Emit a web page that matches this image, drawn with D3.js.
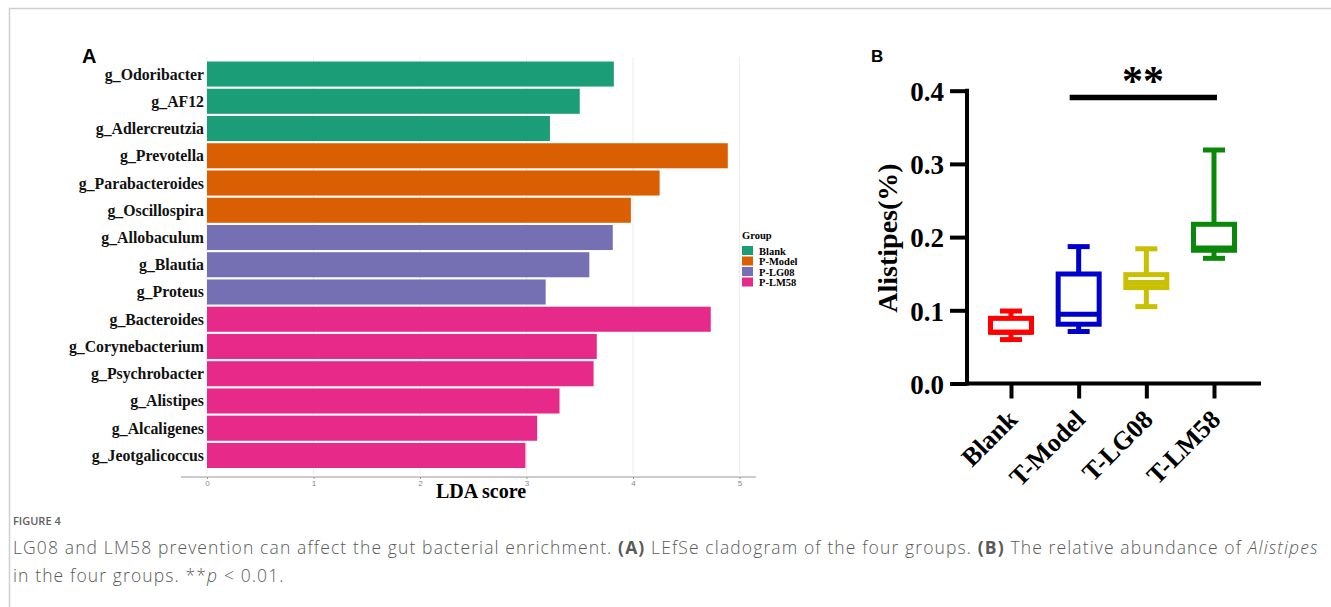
<!DOCTYPE html>
<html><head><meta charset="utf-8">
<script src="https://cdn.jsdelivr.net/npm/d3@7"></script>
<style>body{margin:0;background:#fff}svg{display:block}</style>
</head><body>
<svg id="c" width="1331" height="607"></svg>
<script>
// ---- Panel A data ----
const taxa = ["g_Odoribacter","g_AF12","g_Adlercreutzia","g_Prevotella","g_Parabacteroides","g_Oscillospira","g_Allobaculum","g_Blautia","g_Proteus","g_Bacteroides","g_Corynebacterium","g_Psychrobacter","g_Alistipes","g_Alcaligenes","g_Jeotgalicoccus"];
const ldaScores = [3.82,3.50,3.22,4.89,4.25,3.98,3.81,3.59,3.18,4.73,3.66,3.63,3.31,3.10,2.99];
const taxaGroup = ["Blank","Blank","Blank","P-Model","P-Model","P-Model","P-LG08","P-LG08","P-LG08","P-LM58","P-LM58","P-LM58","P-LM58","P-LM58","P-LM58"];
const legendGroups = ["Blank","P-Model","P-LG08","P-LM58"];
const groupColors = ["#1b9e77","#d95f02","#7570b3","#e7298a"];
const ldaTicks = [0,1,2,3,4,5];
// ---- Panel B data ----
const boxGroups = ["Blank","T-Model","T-LG08","T-LM58"];
const boxMin = [0.060,0.071,0.105,0.171];
const boxQ1 = [0.070,0.081,0.131,0.182];
const boxMedian = [0.070,0.0945,0.138,0.185];
const boxQ3 = [0.089,0.1496,0.1487,0.2175];
const boxMax = [0.099,0.187,0.184,0.319];
const boxColors = ["#ff0000","#0000cc","#c8c000","#0a880a"];
const yTicksB = [0.0,0.1,0.2,0.3,0.4];

const svg = d3.select("#c");
// frame
svg.append("path").attr("d","M9.5,607 V8.5 H1331").attr("fill","none").attr("stroke","#cfcfcf").attr("stroke-width",1.5);

// ===== Panel A =====
const serif = "'Liberation Serif','Times New Roman',serif";
const xA = d3.scaleLinear().domain([0,5]).range([207,739.5]);
const yA = d3.scaleBand().domain(taxa).range([61.5,468]).paddingInner(0.08).paddingOuter(0);
const colA = d3.scaleOrdinal().domain(legendGroups).range(groupColors);

svg.append("text").attr("x",82).attr("y",63).attr("font-family","'Liberation Sans',Arial,sans-serif")
  .attr("font-weight","bold").attr("font-size",20).text("A");

// grid
svg.append("g").selectAll("line").data(ldaTicks).join("line")
  .attr("x1",d=>xA(d)).attr("x2",d=>xA(d)).attr("y1",57).attr("y2",474)
  .attr("stroke","#ececec").attr("stroke-width",1);

svg.append("g").selectAll("rect").data(taxa).join("rect")
  .attr("x",xA(0)).attr("y",d=>yA(d))
  .attr("width",(d,i)=>xA(ldaScores[i])-xA(0)).attr("height",yA.bandwidth())
  .attr("fill",(d,i)=>colA(taxaGroup[i]));

svg.append("g").selectAll("text").data(taxa).join("text")
  .attr("x",204).attr("y",d=>yA(d)+yA.bandwidth()/2+5.5)
  .attr("text-anchor","end").attr("font-family",serif).attr("font-weight","bold").attr("font-size",15.8)
  .attr("fill","#111").text(d=>d);

const axA = svg.append("g").attr("transform","translate(0,477)")
  .call(d3.axisBottom(xA).tickValues(ldaTicks).tickSize(2).tickFormat(d3.format("d")));
axA.select(".domain").remove();
axA.selectAll(".tick line").attr("stroke","#999");
axA.selectAll(".tick text").attr("fill","#888").attr("font-size",8).attr("font-family","'Liberation Sans',Arial,sans-serif").attr("dy","0.5em");
svg.append("line").attr("x1",181).attr("x2",756).attr("y1",477).attr("y2",477).attr("stroke","#999").attr("stroke-width",1.2);

svg.append("text").attr("x",481).attr("y",498).attr("text-anchor","middle")
  .attr("font-family",serif).attr("font-weight","bold").attr("font-size",20).text("LDA score");

// legend
const lg = svg.append("g");
lg.append("text").attr("x",742).attr("y",239).attr("font-family",serif).attr("font-weight","bold").attr("font-size",10.5).text("Group");
const li = lg.selectAll("g").data(legendGroups).join("g").attr("transform",(d,i)=>`translate(742,${246+i*10.5})`);
li.append("rect").attr("width",11).attr("height",9).attr("fill",d=>colA(d));
li.append("text").attr("x",17).attr("y",8.5).attr("font-family",serif).attr("font-weight","bold").attr("font-size",10.5).text(d=>d);

// ===== Panel B =====
svg.append("text").attr("x",871).attr("y",62).attr("font-family","'Liberation Sans',Arial,sans-serif")
  .attr("font-weight","bold").attr("font-size",17).text("B");

const yB = d3.scaleLinear().domain([0,0.4]).range([383.5,90.7]);
const xB = d3.scalePoint().domain(boxGroups).range([1011,1214]);

const ax = svg.append("g").attr("transform","translate(967,0)")
  .call(d3.axisLeft(yB).tickValues(yTicksB).tickSize(17).tickFormat(d3.format(".1f")));
ax.select(".domain").remove();
ax.selectAll(".tick line").attr("stroke","#000").attr("stroke-width",4);
ax.selectAll(".tick text").attr("font-family",serif).attr("font-weight","bold").attr("font-size",27).attr("fill","#000").attr("dx","-3").attr("dy","0.36em");
svg.append("line").attr("x1",967).attr("x2",967).attr("y1",88.7).attr("y2",385.5).attr("stroke","#000").attr("stroke-width",4);

const axx = svg.append("g").attr("transform","translate(0,383.5)")
  .call(d3.axisBottom(xB).tickSize(15).tickFormat(""));
axx.select(".domain").remove();
axx.selectAll(".tick line").attr("stroke","#000").attr("stroke-width",4);
svg.append("line").attr("x1",965).attr("x2",1261).attr("y1",383.5).attr("y2",383.5).attr("stroke","#000").attr("stroke-width",4);

svg.append("g").selectAll("text").data(boxGroups).join("text")
  .attr("transform",d=>`translate(${xB(d)+8},${421}) rotate(-45)`)
  .attr("text-anchor","end").attr("font-family",serif).attr("font-weight","bold").attr("font-size",26).text(d=>d);

svg.append("text").attr("transform","translate(897,238) rotate(-90)").attr("text-anchor","middle")
  .attr("font-family",serif).attr("font-weight","bold").attr("font-size",28).text("Alistipes(%)");

// boxes
const bw = 41, cw = 22, sw = 5;
const bx = svg.append("g").selectAll("g").data(boxGroups).join("g");
bx.append("line").attr("x1",d=>xB(d)).attr("x2",d=>xB(d)).attr("y1",(d,i)=>yB(boxMax[i])).attr("y2",(d,i)=>yB(boxQ3[i]))
  .attr("stroke",(d,i)=>boxColors[i]).attr("stroke-width",sw);
bx.append("line").attr("x1",d=>xB(d)).attr("x2",d=>xB(d)).attr("y1",(d,i)=>yB(boxMin[i])).attr("y2",(d,i)=>yB(boxQ1[i]))
  .attr("stroke",(d,i)=>boxColors[i]).attr("stroke-width",sw);
bx.append("line").attr("x1",d=>xB(d)-cw/2).attr("x2",d=>xB(d)+cw/2).attr("y1",(d,i)=>yB(boxMax[i])).attr("y2",(d,i)=>yB(boxMax[i]))
  .attr("stroke",(d,i)=>boxColors[i]).attr("stroke-width",sw);
bx.append("line").attr("x1",d=>xB(d)-cw/2).attr("x2",d=>xB(d)+cw/2).attr("y1",(d,i)=>yB(boxMin[i])).attr("y2",(d,i)=>yB(boxMin[i]))
  .attr("stroke",(d,i)=>boxColors[i]).attr("stroke-width",sw);
bx.append("rect").attr("x",d=>xB(d)-bw/2).attr("width",bw)
  .attr("y",(d,i)=>yB(boxQ3[i])).attr("height",(d,i)=>yB(boxQ1[i])-yB(boxQ3[i]))
  .attr("fill","#fff").attr("stroke",(d,i)=>boxColors[i]).attr("stroke-width",sw);
bx.append("line").attr("x1",d=>xB(d)-bw/2).attr("x2",d=>xB(d)+bw/2).attr("y1",(d,i)=>yB(boxMedian[i])).attr("y2",(d,i)=>yB(boxMedian[i]))
  .attr("stroke",(d,i)=>boxColors[i]).attr("stroke-width",sw);

// significance
svg.append("line").attr("x1",xB("T-Model")-9).attr("x2",xB("T-LM58")+3).attr("y1",97.5).attr("y2",97.5).attr("stroke","#000").attr("stroke-width",5.5);
svg.append("text").attr("x",1143).attr("y",95).attr("text-anchor","middle").attr("font-family",serif).attr("font-weight","bold").attr("font-size",42).text("**");

// ===== Caption =====
const sans = "'Open Sans','Noto Sans',sans-serif";
svg.append("text").attr("x",13).attr("y",525).attr("font-family",sans).attr("font-weight",600).attr("font-size",11).attr("fill","#5e5e5e").text("FIGURE 4");
const c1 = svg.append("text").attr("x",13).attr("y",554).attr("font-family",sans).attr("font-weight",300).attr("font-size",17.5).attr("letter-spacing",1.12).attr("fill","#5a5a5a");
c1.append("tspan").text("LG08 and LM58 prevention can affect the gut bacterial enrichment. ");
c1.append("tspan").attr("font-weight",700).text("(A)");
c1.append("tspan").text(" LEfSe cladogram of the four groups. ");
c1.append("tspan").attr("font-weight",700).text("(B)");
c1.append("tspan").text(" The relative abundance of ");
c1.append("tspan").attr("font-style","italic").text("Alistipes");
const c2 = svg.append("text").attr("x",13).attr("y",582).attr("font-family",sans).attr("font-weight",300).attr("font-size",17.5).attr("letter-spacing",1.12).attr("fill","#5a5a5a");
c2.append("tspan").text("in the four groups. **");
c2.append("tspan").attr("font-style","italic").text("p");
c2.append("tspan").text(" < 0.01.");
</script>
</body></html>
